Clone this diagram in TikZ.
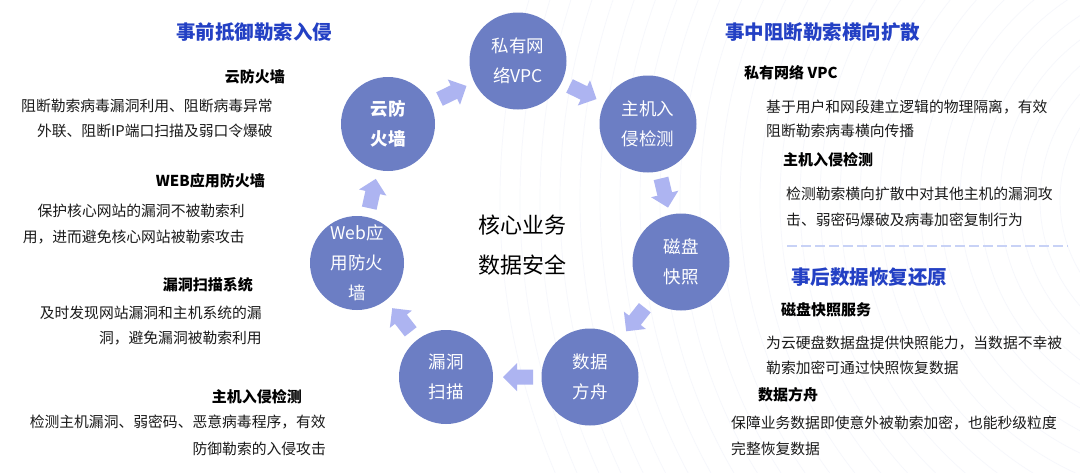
\documentclass[tikz,border=0pt]{standalone}
\usepackage{fontspec}
\setmainfont{Noto Sans CJK SC}
\usetikzlibrary{calc}
\definecolor{circ}{HTML}{6C7EC4}
\definecolor{arrowc}{HTML}{ADB4F1}
\definecolor{ttl}{HTML}{2340C4}
\definecolor{dashc}{HTML}{C8D2F6}
\definecolor{bgarc}{HTML}{F6F7FC}
\definecolor{txt}{HTML}{1A1A1A}
\tikzset{
  bub/.style={circle, fill=circ, text=white, inner sep=0pt, minimum size=97pt, align=center,
    font=\fontsize{17.5}{30}\selectfont},
  ttlL/.style={anchor=center, inner sep=0pt, text=ttl, font=\fontsize{19.5}{22}\selectfont\bfseries},
  ttlR/.style={anchor=west, inner sep=0pt, text=ttl, font=\fontsize{19.5}{22}\selectfont\bfseries},
  hdL/.style={anchor=east, inner sep=0pt, text=black, font=\fontsize{15}{18}\selectfont\bfseries},
  hdR/.style={anchor=west, inner sep=0pt, text=black, font=\fontsize{15}{18}\selectfont\bfseries},
  bdL/.style={anchor=east, inner sep=0pt, text=txt, font=\fontsize{14.8}{18}\selectfont},
  bdR/.style={anchor=west, inner sep=0pt, text=txt, font=\fontsize{14.8}{18}\selectfont},
  blkarrow/.pic={\fill[arrowc] (-15,-7.5) -- (1,-7.5) -- (1,-14) -- (15,0) -- (1,14) -- (1,7.5) -- (-15,7.5) -- cycle;}
}
\begin{document}
\begin{tikzpicture}[x=1pt,y=-1pt]
\useasboundingbox (0,0) rectangle (1080,472);
\fill[white] (0,0) rectangle (1080,472);
\begin{scope}
\clip (0,0) rectangle (1080,472);
\foreach \r in {140,160,...,700} \draw[bgarc, line width=0.7pt] (1200,200) circle (\r);
\end{scope}

% circles
\node[bub] (vpc) at (518,61) {私有网\\络VPC};
\node[bub] (hids) at (648,124) {主机入\\侵检测};
\node[bub] (disk) at (681,262) {磁盘\\快照};
\node[bub] (ark) at (590,377) {数据\\方舟};
\node[bub, minimum size=94pt] (scan) at (446,377) {漏洞\\扫描};
\node[bub, minimum size=94pt] (waf) at (357,263) {Web应\\用防火\\墙};
\node[bub, minimum size=94pt, font=\fontsize{17.5}{30}\selectfont\bfseries] (fw) at (388,124) {云防\\火墙};

\node[inner sep=0pt, align=center, font=\fontsize{22}{40}\selectfont, text=black] (core) at (522,245) {核心业务\\数据安全};

% block arrows
\foreach \a/\b in {fw/vpc, vpc/hids, hids/disk, disk/ark, ark/scan, scan/waf, waf/fw}
  \path let \p1=($(\b)-(\a)$), \n1={atan2(\y1,\x1)} in pic[rotate=\n1] at ($(\a)!0.5!(\b)$) {blkarrow};

% left texts
\node[ttlL] (t1) at (254,32) {事前抵御勒索入侵};
\node[hdL] (l1h) at (285,77) {云防火墙};
\node[bdL] (l1a) at (273,106) {阻断勒索病毒漏洞利用、阻断病毒异常};
\node[bdL] (l1b) at (273,131) {外联、阻断IP端口扫描及弱口令爆破};
\node[hdL] (l2h) at (265,181) {WEB应用防火墙};
\node[bdL] (l2a) at (245,211) {保护核心网站的漏洞不被勒索利};
\node[bdL] (l2b) at (245,237) {用，进而避免核心网站被勒索攻击};
\node[hdL] (l3h) at (253,285) {漏洞扫描系统};
\node[bdL] (l3a) at (262,313) {及时发现网站漏洞和主机系统的漏};
\node[bdL] (l3b) at (262,338) {洞，避免漏洞被勒索利用};
\node[hdL] (l4h) at (302,397) {主机入侵检测};
\node[bdL] (l4a) at (326,422) {检测主机漏洞、弱密码、恶意病毒程序，有效};
\node[bdL] (l4b) at (326,449) {防御勒索的入侵攻击};

% right texts
\node[ttlR] (t2) at (725,32) {事中阻断勒索横向扩散};
\node[hdR] (r1h) at (744,73) {私有网络 VPC};
\node[bdR] (r1a) at (766,107) {基于用户和网段建立逻辑的物理隔离，有效};
\node[bdR] (r1b) at (766,131) {阻断勒索病毒横向传播};
\node[hdR] (r2h) at (783,160) {主机入侵检测};
\node[bdR] (r2a) at (786,194) {检测勒索横向扩散中对其他主机的漏洞攻};
\node[bdR] (r2b) at (786,220) {击、弱密码爆破及病毒加密复制行为};
\coordinate (dA) at (787,246);
\coordinate (dB) at (1068,246);
\draw[dashc, line width=2pt, dash pattern=on 10pt off 4pt] (dA) -- (dB);
\node[ttlR] (t3) at (791,277) {事后数据恢复还原};
\node[hdR] (r3h) at (781,310) {磁盘快照服务};
\node[bdR] (r3a) at (766,343) {为云硬盘数据盘提供快照能力，当数据不幸被};
\node[bdR] (r3b) at (766,368) {勒索加密可通过快照恢复数据};
\node[hdR] (r4h) at (758,395) {数据方舟};
\node[bdR] (r4a) at (731,423) {保障业务数据即使意外被勒索加密，也能秒级粒度};
\node[bdR] (r4b) at (731,449) {完整恢复数据};
\end{tikzpicture}
\end{document}
